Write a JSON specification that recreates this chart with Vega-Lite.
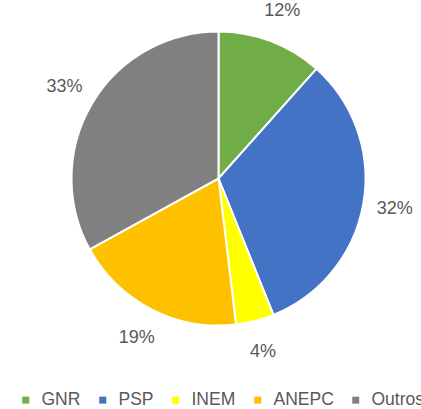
{
  "$schema": "https://vega.github.io/schema/vega-lite/v6.json",
  "width": 405,
  "height": 357,
  "autosize": {"type": "none"},
  "padding": {"left": 16, "top": 0, "right": 0, "bottom": 52},
  "background": "white",
  "view": {"stroke": null},
  "data": {
    "values": [
      {"cat": "GNR", "value": 11.6, "label": "12%"},
      {"cat": "PSP", "value": 32.3, "label": "32%"},
      {"cat": "INEM", "value": 4.2, "label": "4%"},
      {"cat": "ANEPC", "value": 18.9, "label": "19%"},
      {"cat": "Outros", "value": 33.0, "label": "33%"}
    ]
  },
  "transform": [{"window": [{"op": "row_number", "as": "idx"}]}],
  "encoding": {
    "theta": {"field": "value", "type": "quantitative", "stack": true},
    "order": {"field": "idx", "type": "quantitative", "sort": "ascending"},
    "color": {
      "field": "cat",
      "type": "nominal",
      "sort": ["GNR", "PSP", "INEM", "ANEPC", "Outros"],
      "scale": {
        "domain": ["GNR", "PSP", "INEM", "ANEPC", "Outros"],
        "range": ["#70AD47", "#4472C4", "#FFFF00", "#FFC000", "#808080"]
      },
      "legend": {
        "title": null,
        "orient": "none",
        "direction": "horizontal",
        "legendX": 1,
        "legendY": 391,
        "symbolType": "square",
        "symbolSize": 49,
        "symbolStrokeWidth": 0,
        "labelFontSize": 17.5,
        "labelFont": "Liberation Sans",
        "labelColor": "#595959",
        "labelOffset": 7,
        "columnPadding": 13,
        "padding": 0
      }
    }
  },
  "layer": [
    {"mark": {"type": "arc", "radius": 147, "stroke": "white", "strokeWidth": 2}},
    {
      "mark": {"type": "text", "radius": 179, "fontSize": 18, "font": "Liberation Sans"},
      "encoding": {
        "text": {"field": "label", "type": "nominal"},
        "fill": {"value": "#595959"}
      }
    }
  ]
}
